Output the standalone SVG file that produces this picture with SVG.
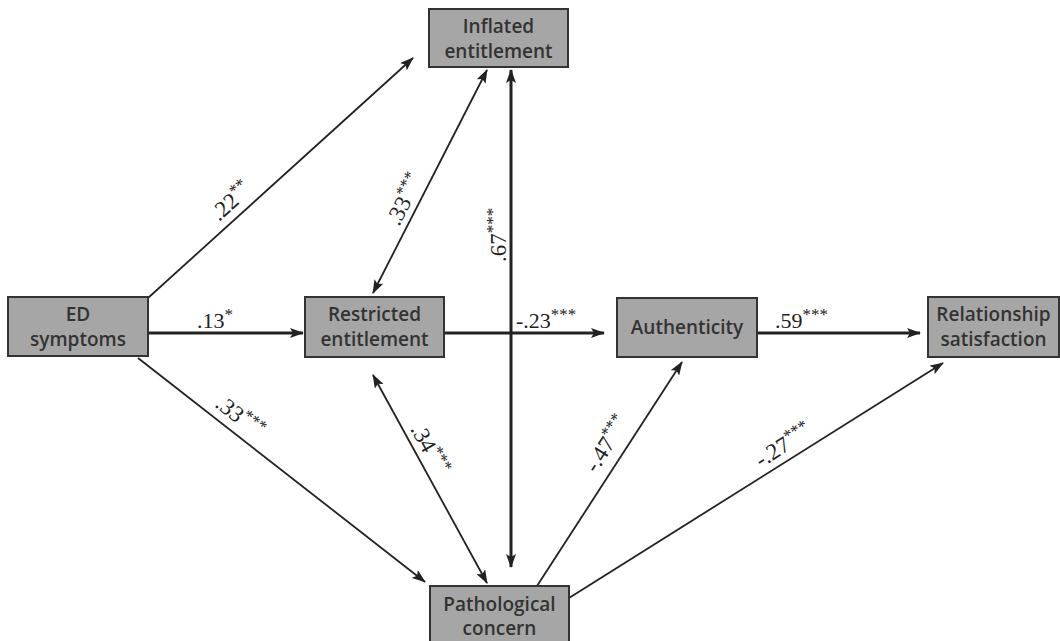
<svg xmlns="http://www.w3.org/2000/svg" width="1060" height="641" viewBox="0 0 1060 641">
<defs>
<marker id="ah" viewBox="0 0 14 10" refX="13" refY="5" markerWidth="14" markerHeight="10" markerUnits="userSpaceOnUse" orient="auto-start-reverse">
<path d="M0,0 L14,5 L0,10 L3,5 Z" fill="#222"/>
</marker>
<style>
.node rect{fill:#a6a6a6;stroke:#333;stroke-width:2}
.node text{font-family:"Open Sans","Liberation Sans",sans-serif;font-weight:600;font-size:19px;fill:#333;text-anchor:middle}
.e{stroke:#222;fill:none;stroke-width:1.8}
.t{stroke-width:3}
.lbl{font-family:"Liberation Serif","DejaVu Serif",serif;font-size:22px;fill:#222}
.r{font-size:23px}
.s{font-size:17px}
</style>
</defs>
<rect width="1060" height="641" fill="#fff"/>
<g id="connectors">
<line class="e" x1="148" y1="298" x2="413" y2="58" marker-end="url(#ah)"/>
<line class="e t" x1="148" y1="333" x2="303" y2="333" marker-end="url(#ah)"/>
<line class="e" x1="138" y1="358" x2="425" y2="582" marker-end="url(#ah)"/>
<line class="e" x1="373" y1="293" x2="487" y2="70" marker-start="url(#ah)" marker-end="url(#ah)"/>
<line class="e t" x1="511" y1="70" x2="511" y2="567" marker-start="url(#ah)" marker-end="url(#ah)"/>
<line class="e t" x1="444" y1="333" x2="604" y2="333" marker-end="url(#ah)"/>
<line class="e t" x1="757" y1="333" x2="920" y2="333" marker-end="url(#ah)"/>
<line class="e" x1="373" y1="375" x2="487" y2="583" marker-start="url(#ah)" marker-end="url(#ah)"/>
<line class="e" x1="537" y1="586" x2="682" y2="362" marker-end="url(#ah)"/>
<line class="e" x1="569" y1="598" x2="943" y2="363" marker-end="url(#ah)"/>
<text class="lbl r" transform="translate(219,222) rotate(-42)">.22<tspan class="s" dy="-8">**</tspan></text>
<text class="lbl" x="197" y="328">.13<tspan class="s" dy="-8">*</tspan></text>
<text class="lbl r" transform="translate(214,406) rotate(38)">.33<tspan class="s" dy="-8">***</tspan></text>
<text class="lbl r" transform="translate(399,227) rotate(-63)">.33<tspan class="s" dy="-8">***</tspan></text>
<text class="lbl r" transform="translate(506,262) rotate(-90)">.67<tspan class="s" dy="-8">***</tspan></text>
<text class="lbl" x="516" y="328">-.23<tspan class="s" dy="-8">***</tspan></text>
<text class="lbl" x="775" y="328">.59<tspan class="s" dy="-8">***</tspan></text>
<text class="lbl r" transform="translate(410,429) rotate(61)">.34<tspan class="s" dy="-8">***</tspan></text>
<text class="lbl r" transform="translate(596,474) rotate(-57)">-.47<tspan class="s" dy="-8">***</tspan></text>
<text class="lbl r" transform="translate(761,468) rotate(-32)">-.27<tspan class="s" dy="-8">***</tspan></text>
</g>
<g id="inflated" class="node"><rect x="429" y="9" width="139" height="58"/><text x="498.5" y="33">Inflated</text><text x="498.5" y="58">entitlement</text></g>
<g id="ed" class="node"><rect x="8" y="297" width="140" height="59"/><text x="78" y="321">ED</text><text x="78" y="346">symptoms</text></g>
<g id="restricted" class="node"><rect x="305" y="297" width="139" height="60"/><text x="374.5" y="321">Restricted</text><text x="374.5" y="346">entitlement</text></g>
<g id="authenticity" class="node"><rect x="617" y="298" width="140" height="59"/><text x="687" y="334">Authenticity</text></g>
<g id="relationship" class="node"><rect x="928" y="297" width="131" height="60"/><text x="993.5" y="321">Relationship</text><text x="993.5" y="346">satisfaction</text></g>
<g id="pathological" class="node"><rect x="430" y="586" width="139" height="60"/><text x="499.5" y="611">Pathological</text><text x="499.5" y="635">concern</text></g>
</svg>
